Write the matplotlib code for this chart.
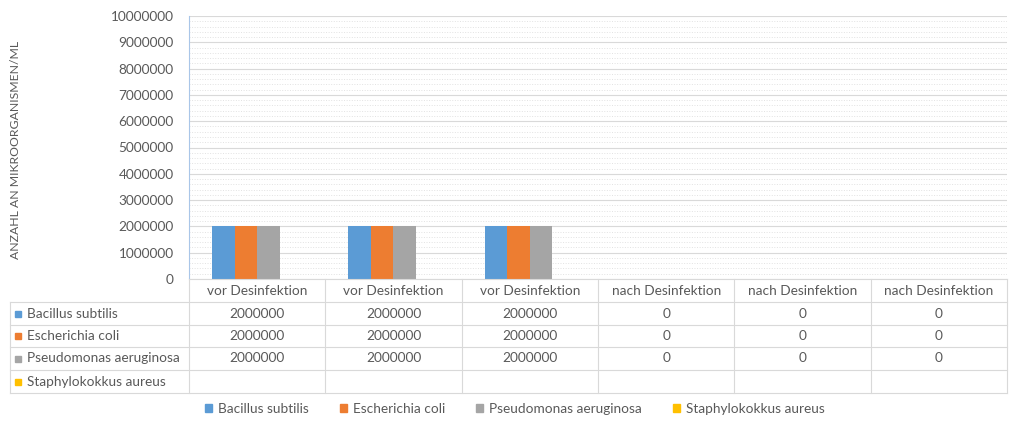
import numpy as np
import matplotlib
matplotlib.use("Agg")
import matplotlib.pyplot as plt
from matplotlib.ticker import MultipleLocator
from matplotlib.patches import Rectangle

plt.rcParams['font.family'] = ['Lato', 'DejaVu Sans']

categories = ["vor Desinfektion", "vor Desinfektion", "vor Desinfektion",
              "nach Desinfektion", "nach Desinfektion", "nach Desinfektion"]
series_names = ["Bacillus subtilis", "Escherichia coli",
                "Pseudomonas aeruginosa", "Staphylokokkus aureus"]
bacillus = [2000000, 2000000, 2000000, 0, 0, 0]
ecoli = [2000000, 2000000, 2000000, 0, 0, 0]
pseudomonas = [2000000, 2000000, 2000000, 0, 0, 0]
staph = [None, None, None, None, None, None]
colors = ["#5B9BD5", "#ED7D31", "#A5A5A5", "#FFC000"]

all_series = [bacillus, ecoli, pseudomonas, staph]
text_col = "#595959"
line_col = "#d9d9d9"
fs = 9.8

W, H = 1009, 424
fig = plt.figure(figsize=(W / 100, H / 100), dpi=100)


def fx(px):
    return px / W


def fy(py):
    return 1 - py / H


ax_left, ax_right, ax_top, ax_bottom = 189, 1007, 16, 279
ax = fig.add_axes([fx(ax_left), fy(ax_bottom), fx(ax_right - ax_left), (ax_bottom - ax_top) / H])

x = np.arange(len(categories))
bw = 0.166
for i, (vals, c) in enumerate(zip(all_series, colors)):
    v = [np.nan if d is None else d for d in vals]
    ax.bar(x + (i - 1.5) * bw, v, width=bw, color=c, zorder=3)

ax.set_xlim(-0.5, len(categories) - 0.5)
ax.set_ylim(0, 10000000)
ax.yaxis.set_major_locator(MultipleLocator(1000000))
ax.yaxis.set_minor_locator(MultipleLocator(200000))
ax.grid(axis='y', which='major', color=line_col, linewidth=0.8, zorder=0)
ax.grid(axis='y', which='minor', color="#e2e2e2", linewidth=0.7, linestyle=':', zorder=0)
ax.set_xticks([])
ax.tick_params(axis='y', which='both', length=0, labelsize=fs, labelcolor=text_col, pad=11)
ax.yaxis.set_major_formatter(matplotlib.ticker.FuncFormatter(lambda v, p: f"{int(v)}"))
for s in ['top', 'right', 'bottom']:
    ax.spines[s].set_visible(False)
ax.spines['left'].set_color("#a9c6e8")

fig.text(fx(16), fy(150), "ANZAHL AN MIKROORGANISMEN/ML", rotation=90,
         ha='center', va='center', fontsize=8.8, color=text_col)

# data table below the axes
row_lines = [279, 302, 325, 347, 370, 393]
col_w = (ax_right - ax_left) / len(categories)
col_edges = [ax_left + k * col_w for k in range(len(categories) + 1)]
tbl_left = 10

for k, y in enumerate(row_lines):
    x0 = ax_left if k == 0 else tbl_left
    fig.add_artist(plt.Line2D([fx(x0), fx(ax_right)], [fy(y), fy(y)], color=line_col, linewidth=0.8))
for xe in col_edges[:-1]:
    fig.add_artist(plt.Line2D([fx(xe), fx(xe)], [fy(279), fy(393)], color=line_col, linewidth=0.8))
fig.add_artist(plt.Line2D([fx(ax_right), fx(ax_right)], [fy(279), fy(393)], color=line_col, linewidth=0.8))
fig.add_artist(plt.Line2D([fx(tbl_left), fx(tbl_left)], [fy(302), fy(393)], color=line_col, linewidth=0.8))

for j, cat in enumerate(categories):
    cx = (col_edges[j] + col_edges[j + 1]) / 2
    fig.text(fx(cx), fy(291), cat, ha='center', va='center', fontsize=fs, color=text_col)

for i, (name, vals, c) in enumerate(zip(series_names, all_series, colors)):
    cy = (row_lines[i + 1] + row_lines[i + 2]) / 2
    fig.add_artist(Rectangle((fx(15), fy(cy + 3)), fx(6), 6 / H, color=c))
    fig.text(fx(27), fy(cy), name, ha='left', va='center', fontsize=fs, color=text_col)
    for j, d in enumerate(vals):
        if d is None:
            continue
        cx = (col_edges[j] + col_edges[j + 1]) / 2
        fig.text(fx(cx), fy(cy), str(d), ha='center', va='center', fontsize=fs, color=text_col)

handles = [Rectangle((0, 0), 1, 1, color=c) for c in colors]
fig.legend(handles, series_names, loc='center', bbox_to_anchor=(fx(515), fy(409)),
           ncol=4, frameon=False, fontsize=fs, labelcolor=text_col,
           handlelength=0.5, handleheight=0.5, columnspacing=2.3, handletextpad=0.45)

fig.savefig("out.png", dpi=100)
